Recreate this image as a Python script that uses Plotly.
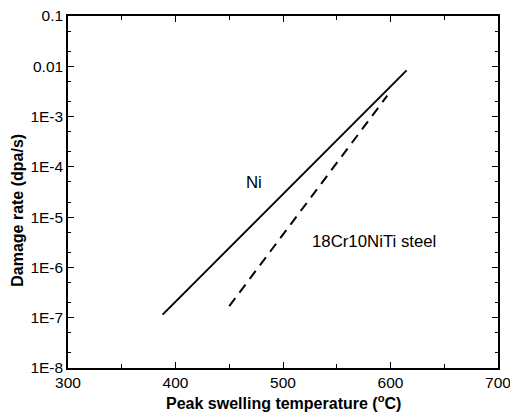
import plotly.graph_objects as go

ni_temp = [388, 615]
ni_rate = [1.15e-7, 8.3e-3]
steel_temp = [450, 597]
steel_rate = [1.7e-7, 2.6e-3]

x_ticks = [300, 400, 500, 600, 700]
y_tickvals = [1e-8, 1e-7, 1e-6, 1e-5, 1e-4, 1e-3, 1e-2, 1e-1]
y_ticktext = ["1E-8", "1E-7", "1E-6", "1E-5", "1E-4", "1E-3", "0.01", "0.1"]

FONT = "Liberation Sans, Arial"

fig = go.Figure()
fig.add_trace(go.Scatter(x=ni_temp, y=ni_rate, mode="lines",
                         line=dict(color="black", width=2), showlegend=False))
fig.add_trace(go.Scatter(x=steel_temp, y=steel_rate, mode="lines",
                         line=dict(color="black", width=2, dash="10px,7px"), showlegend=False))

fig.add_annotation(x=473, y=-4.32, xref="x", yref="y", text="Ni", showarrow=False,
                   font=dict(size=16.8, color="black", family=FONT))
fig.add_annotation(x=525, y=-5.49, xref="x", yref="y", text="18Cr10NiTi steel",
                   showarrow=False, xanchor="left",
                   font=dict(size=16.8, color="black", family=FONT))

# axis titles as annotations for exact placement
fig.add_annotation(x=-0.116, y=0.447, xref="paper", yref="paper",
                   text="<b>Damage rate (dpa/s)</b>", textangle=-90, showarrow=False,
                   xanchor="center", yanchor="middle",
                   font=dict(size=16, color="black", family=FONT))
fig.add_annotation(x=0.5, y=-0.097, xref="paper", yref="paper",
                   text="<b>Peak swelling temperature (<sup>o</sup>C)</b>", showarrow=False,
                   xanchor="center", yanchor="middle",
                   font=dict(size=16, color="black", family=FONT))

axis_common = dict(showline=True, linecolor="black", linewidth=1.5, mirror="ticks",
                   ticks="inside", tickcolor="black", showgrid=False, zeroline=False,
                   automargin=False, ticklabeloverflow="allow",
                   tickfont=dict(size=15.5, color="black", family=FONT))

fig.update_xaxes(range=[300, 700], tickvals=x_ticks, ticklen=6,
                 minor=dict(dtick=50, ticks="inside", ticklen=4, tickcolor="black"),
                 **axis_common)
fig.update_yaxes(type="log", range=[-8, -1], tickvals=y_tickvals, ticktext=y_ticktext,
                 ticklen=6,
                 minor=dict(ticks="inside", ticklen=3, tickcolor="black", showgrid=False),
                 **axis_common)

fig.update_layout(width=510, height=414, autosize=False,
                  margin=dict(l=68, r=12, t=16, b=46),
                  plot_bgcolor="white", paper_bgcolor="white")

fig.write_html("out.html", config={"displayModeBar": False},
               post_script="document.body.style.margin='0';document.body.style.overflow='hidden';")
